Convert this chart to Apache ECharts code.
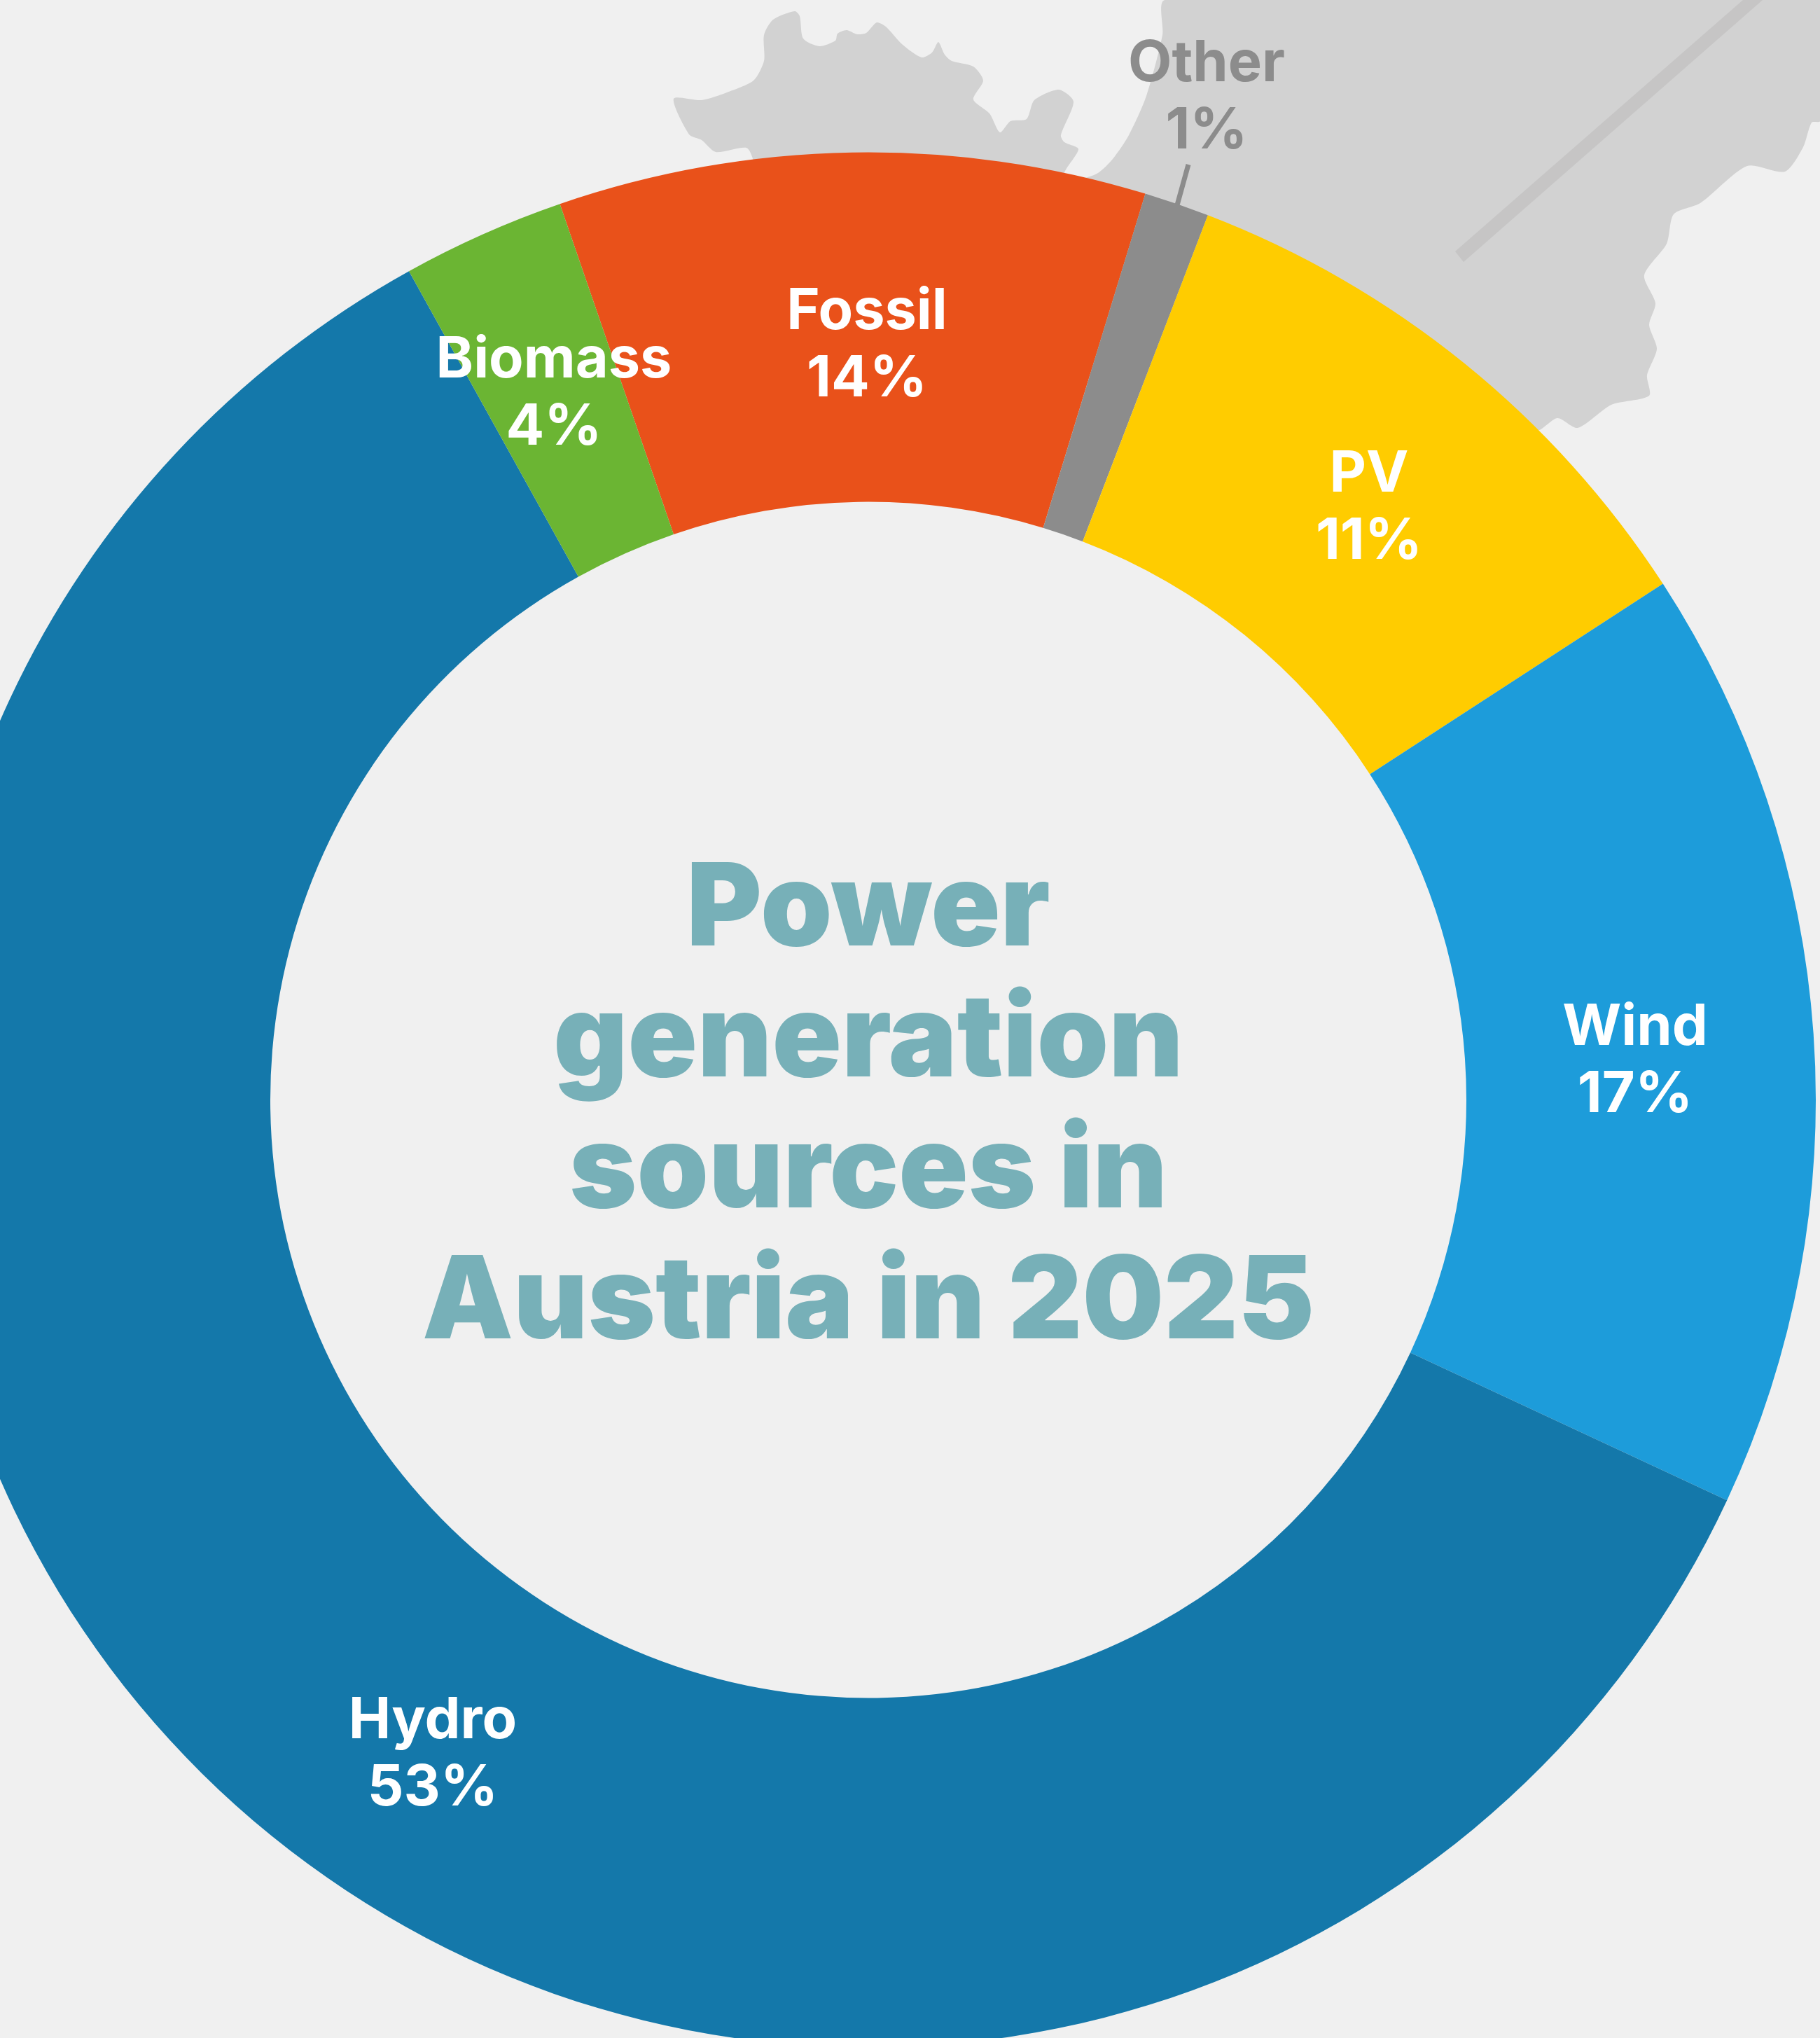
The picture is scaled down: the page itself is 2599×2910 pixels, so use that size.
<!DOCTYPE html>
<html>
<head>
<meta charset="utf-8">
<title>Power generation sources in Austria in 2025</title>
<style>
  html, body { margin: 0; padding: 0; background: #f0f0f0; }
  #main { width: 2599px; height: 2910px; }
</style>
<script src="https://cdn.jsdelivr.net/npm/echarts@6/dist/echarts.min.js"></script>
</head>
<body>
<div id="main"></div>
<script>
// clockwise from the top of the ring
const sources = ['Fossil', 'Other', 'PV', 'Wind', 'Hydro', 'Biomass']
// percentages as printed on the labels
const printedPercent = [14, 1, 11, 17, 53, 4]
// arc size as drawn, in degrees. The drawn arcs do not follow the printed numbers
const arcDegrees = [36, 4, 36, 58, 216, 10]
const sliceColors = ['#e9511a', '#8c8c8c', '#ffcc00', '#1d9cda', '#1478aa', '#6bb533']
const labelColors = ['#fff', '#8c8c8c', '#fff', '#fff', '#fff', '#fff']
const labelCenters = [[1238, 494], [1723, 140], [1955, 726], [2335, 1516], [618, 2506], [791, 563]]
const titleLines = ['Power', 'generation', 'sources in', 'Austria in 2025']

// backdrop map outline, the closing points sit behind the ring
const mapOutline = [
  [962, 141], [1002, 143], [1038, 132], [1076, 115], [1091, 87], [1091, 50], [1104, 28], [1135, 16],
  [1142, 23], [1147, 55], [1170, 66], [1193, 58], [1196, 48], [1209, 43], [1224, 49], [1237, 47],
  [1252, 32], [1265, 38], [1288, 63], [1316, 82], [1331, 75], [1340, 60], [1349, 78], [1359, 87],
  [1390, 95], [1404, 115], [1390, 142], [1413, 162], [1428, 189], [1443, 173], [1466, 170], [1477, 143],
  [1512, 128], [1533, 145], [1515, 193], [1520, 203], [1540, 213], [1520, 248], [1543, 255], [1568, 247],
  [1589, 227], [1612, 193], [1637, 137], [1660, 50], [1664, 0]
]
const mapOutlineRight = [
  [2599, 0], [2599, 173], [2587, 175], [2575, 210], [2549, 245], [2495, 237], [2428, 290], [2390, 306],
  [2380, 348], [2348, 393], [2364, 433], [2355, 464], [2366, 498], [2352, 536], [2355, 565], [2301, 578],
  [2253, 611], [2224, 597], [2196, 615], [2000, 650], [1300, 450], [1090, 300], [1076, 230], [1066, 211],
  [1022, 217], [1002, 200], [984, 192]
]

const chart = echarts.init(document.getElementById('main'))
chart.setOption({
  animation: false,
  backgroundColor: '#f0f0f0',
  title: {
    text: titleLines.join('\n'),
    left: 1235,
    top: 1202,
    textAlign: 'center',
    textStyle: {
      color: '#77b0b8',
      fontFamily: 'Inter',
      fontWeight: 900,
      fontSize: 164,
      lineHeight: 187
    }
  },
  graphic: [
    {
      type: 'polygon',
      z: 0,
      silent: true,
      shape: { points: mapOutline.concat(mapOutlineRight), smooth: 0.25 },
      style: { fill: '#d2d2d2' }
    },
    {
      type: 'polygon',
      z: 0,
      silent: true,
      shape: { points: [[2078, 359], [2090, 374], [2517, 0], [2489, 0]] },
      style: { fill: '#c6c5c5' }
    },
    {
      type: 'line',
      z: 0,
      silent: true,
      shape: { x1: 1697, y1: 235, x2: 1679, y2: 300 },
      style: { stroke: '#8c8c8c', lineWidth: 7 }
    }
  ],
  series: [
    {
      type: 'pie',
      center: [1240, 1570.5],
      radius: [854, 1353],
      startAngle: 109,
      clockwise: true,
      silent: true,
      data: sources.map((name, i) => ({
        name: name,
        value: arcDegrees[i],
        itemStyle: { color: sliceColors[i] },
        label: { color: labelColors[i] }
      })),
      label: {
        position: 'inside',
        fontFamily: 'Inter',
        fontWeight: 700,
        fontSize: 81,
        lineHeight: 96,
        align: 'center',
        formatter: params => params.name + '\n' + printedPercent[params.dataIndex] + '%'
      },
      labelLine: { show: false },
      labelLayout: params => ({
        x: labelCenters[params.dataIndex][0],
        y: labelCenters[params.dataIndex][1],
        align: 'center',
        verticalAlign: 'middle'
      })
    }
  ]
})
</script>
</body>
</html>
